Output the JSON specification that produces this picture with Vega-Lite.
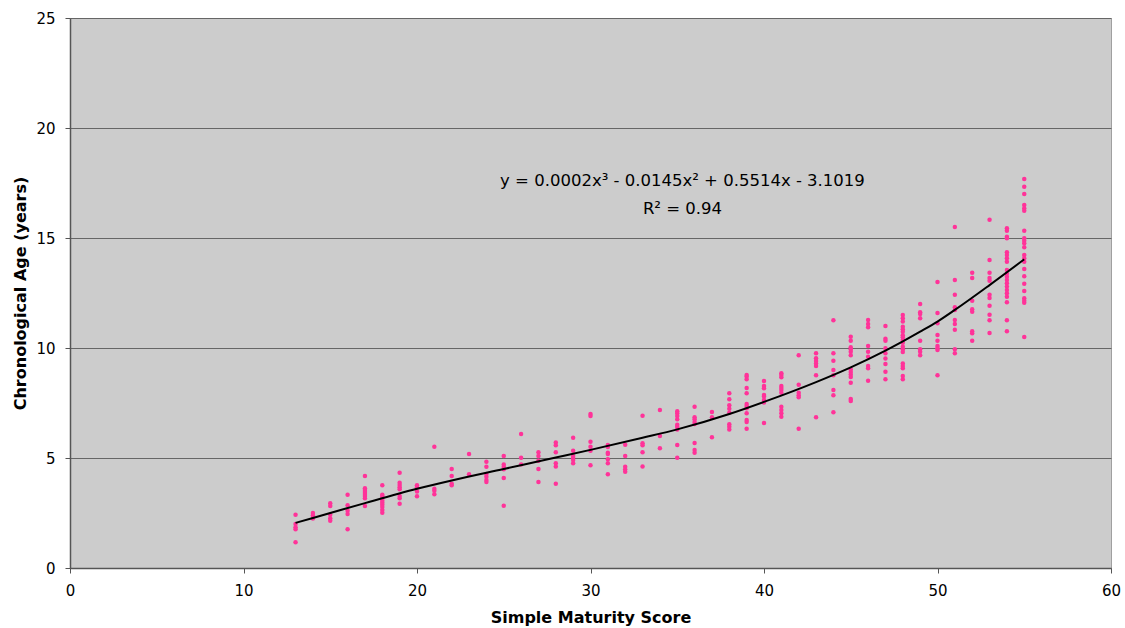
{
  "$schema": "https://vega.github.io/schema/vega-lite/v6.json",
  "width": 1041,
  "height": 550,
  "autosize": {"type": "none"},
  "padding": {"left": 70, "top": 18, "right": 14, "bottom": 60},
  "background": "white",
  "config": {
    "view": {"fill": "#CCCCCC", "stroke": "#A0A0A0", "strokeWidth": 1},
    "font": "DejaVu Sans",
    "axis": {
      "labelFont": "DejaVu Sans",
      "labelFontSize": 15,
      "labelColor": "#000000",
      "titleFont": "DejaVu Sans",
      "titleFontSize": 16,
      "titleFontWeight": "bold",
      "titleColor": "#000000",
      "domainColor": "#555555",
      "domainWidth": 1.5,
      "tickColor": "#555555",
      "tickSize": 5
    }
  },
  "datasets": {
    "pts": [
      {"score": 13, "age": 2.42}, {"score": 13, "age": 2.0}, {"score": 13, "age": 1.85}, {"score": 13, "age": 1.76}, {"score": 13, "age": 1.17},
      {"score": 14, "age": 2.5}, {"score": 14, "age": 2.4}, {"score": 14, "age": 2.25},
      {"score": 15, "age": 2.94}, {"score": 15, "age": 2.82}, {"score": 15, "age": 2.42}, {"score": 15, "age": 2.26}, {"score": 15, "age": 2.15},
      {"score": 16, "age": 3.33}, {"score": 16, "age": 2.85}, {"score": 16, "age": 2.6}, {"score": 16, "age": 2.45}, {"score": 16, "age": 1.76},
      {"score": 17, "age": 4.18}, {"score": 17, "age": 3.62}, {"score": 17, "age": 3.55}, {"score": 17, "age": 3.45}, {"score": 17, "age": 3.36}, {"score": 17, "age": 3.27}, {"score": 17, "age": 3.17}, {"score": 17, "age": 2.82},
      {"score": 18, "age": 3.76}, {"score": 18, "age": 3.33}, {"score": 18, "age": 3.27}, {"score": 18, "age": 3.17}, {"score": 18, "age": 3.06}, {"score": 18, "age": 2.97}, {"score": 18, "age": 2.88}, {"score": 18, "age": 2.77}, {"score": 18, "age": 2.64}, {"score": 18, "age": 2.51},
      {"score": 19, "age": 4.33}, {"score": 19, "age": 3.88}, {"score": 19, "age": 3.77}, {"score": 19, "age": 3.67}, {"score": 19, "age": 3.58}, {"score": 19, "age": 3.27}, {"score": 19, "age": 3.17}, {"score": 19, "age": 2.92},
      {"score": 20, "age": 3.76}, {"score": 20, "age": 3.67}, {"score": 20, "age": 3.48}, {"score": 20, "age": 3.26},
      {"score": 21, "age": 5.51}, {"score": 21, "age": 3.6}, {"score": 21, "age": 3.51}, {"score": 21, "age": 3.35},
      {"score": 22, "age": 4.5}, {"score": 22, "age": 4.18}, {"score": 22, "age": 3.83}, {"score": 22, "age": 3.76},
      {"score": 23, "age": 5.18}, {"score": 23, "age": 4.26},
      {"score": 24, "age": 4.83}, {"score": 24, "age": 4.6}, {"score": 24, "age": 4.27}, {"score": 24, "age": 4.15}, {"score": 24, "age": 4.0}, {"score": 24, "age": 3.91},
      {"score": 25, "age": 5.09}, {"score": 25, "age": 4.7}, {"score": 25, "age": 4.6}, {"score": 25, "age": 4.49}, {"score": 25, "age": 4.09}, {"score": 25, "age": 2.83},
      {"score": 26, "age": 6.09}, {"score": 26, "age": 5.01}, {"score": 26, "age": 4.71},
      {"score": 27, "age": 5.26}, {"score": 27, "age": 5.09}, {"score": 27, "age": 4.88}, {"score": 27, "age": 4.5}, {"score": 27, "age": 3.91},
      {"score": 28, "age": 5.7}, {"score": 28, "age": 5.58}, {"score": 28, "age": 5.26}, {"score": 28, "age": 4.76}, {"score": 28, "age": 4.61}, {"score": 28, "age": 3.83},
      {"score": 29, "age": 5.92}, {"score": 29, "age": 5.33}, {"score": 29, "age": 5.09}, {"score": 29, "age": 5.0}, {"score": 29, "age": 4.91}, {"score": 29, "age": 4.76},
      {"score": 30, "age": 7.0}, {"score": 30, "age": 6.91}, {"score": 30, "age": 5.74}, {"score": 30, "age": 5.51}, {"score": 30, "age": 5.33}, {"score": 30, "age": 4.67},
      {"score": 31, "age": 5.59}, {"score": 31, "age": 5.5}, {"score": 31, "age": 5.24}, {"score": 31, "age": 5.18}, {"score": 31, "age": 4.94}, {"score": 31, "age": 4.76}, {"score": 31, "age": 4.26},
      {"score": 32, "age": 5.6}, {"score": 32, "age": 5.09}, {"score": 32, "age": 4.6}, {"score": 32, "age": 4.49}, {"score": 32, "age": 4.38},
      {"score": 33, "age": 6.92}, {"score": 33, "age": 5.67}, {"score": 33, "age": 5.58}, {"score": 33, "age": 5.26}, {"score": 33, "age": 4.61},
      {"score": 34, "age": 7.18}, {"score": 34, "age": 6.0}, {"score": 34, "age": 5.44},
      {"score": 35, "age": 7.12}, {"score": 35, "age": 7.03}, {"score": 35, "age": 6.91}, {"score": 35, "age": 6.76}, {"score": 35, "age": 6.51}, {"score": 35, "age": 6.42}, {"score": 35, "age": 6.3}, {"score": 35, "age": 5.59}, {"score": 35, "age": 5.01},
      {"score": 36, "age": 7.33}, {"score": 36, "age": 6.85}, {"score": 36, "age": 6.76}, {"score": 36, "age": 6.64}, {"score": 36, "age": 6.55}, {"score": 36, "age": 5.68}, {"score": 36, "age": 5.36}, {"score": 36, "age": 5.24},
      {"score": 37, "age": 7.09}, {"score": 37, "age": 6.85}, {"score": 37, "age": 5.94},
      {"score": 38, "age": 7.94}, {"score": 38, "age": 7.67}, {"score": 38, "age": 7.4}, {"score": 38, "age": 7.24}, {"score": 38, "age": 7.06}, {"score": 38, "age": 6.53}, {"score": 38, "age": 6.42}, {"score": 38, "age": 6.3},
      {"score": 39, "age": 8.77}, {"score": 39, "age": 8.7}, {"score": 39, "age": 8.58}, {"score": 39, "age": 8.18}, {"score": 39, "age": 7.94}, {"score": 39, "age": 7.45}, {"score": 39, "age": 7.36}, {"score": 39, "age": 7.26}, {"score": 39, "age": 7.03}, {"score": 39, "age": 6.73}, {"score": 39, "age": 6.64}, {"score": 39, "age": 6.33},
      {"score": 40, "age": 8.5}, {"score": 40, "age": 8.27}, {"score": 40, "age": 8.17}, {"score": 40, "age": 7.86}, {"score": 40, "age": 7.79}, {"score": 40, "age": 7.64}, {"score": 40, "age": 7.52}, {"score": 40, "age": 6.59},
      {"score": 41, "age": 8.85}, {"score": 41, "age": 8.77}, {"score": 41, "age": 8.67}, {"score": 41, "age": 8.27}, {"score": 41, "age": 8.18}, {"score": 41, "age": 8.09}, {"score": 41, "age": 7.97}, {"score": 41, "age": 7.33}, {"score": 41, "age": 7.18}, {"score": 41, "age": 7.03}, {"score": 41, "age": 6.88},
      {"score": 42, "age": 9.67}, {"score": 42, "age": 8.33}, {"score": 42, "age": 7.97}, {"score": 42, "age": 7.85}, {"score": 42, "age": 7.76}, {"score": 42, "age": 6.33},
      {"score": 43, "age": 9.76}, {"score": 43, "age": 9.53}, {"score": 43, "age": 9.41}, {"score": 43, "age": 9.3}, {"score": 43, "age": 9.18}, {"score": 43, "age": 8.76}, {"score": 43, "age": 6.85},
      {"score": 44, "age": 11.26}, {"score": 44, "age": 9.76}, {"score": 44, "age": 9.42}, {"score": 44, "age": 9.0}, {"score": 44, "age": 8.76}, {"score": 44, "age": 8.09}, {"score": 44, "age": 7.85}, {"score": 44, "age": 7.08},
      {"score": 45, "age": 10.51}, {"score": 45, "age": 10.33}, {"score": 45, "age": 10.03}, {"score": 45, "age": 9.94}, {"score": 45, "age": 9.83}, {"score": 45, "age": 9.67}, {"score": 45, "age": 9.03}, {"score": 45, "age": 8.91}, {"score": 45, "age": 8.79}, {"score": 45, "age": 8.68}, {"score": 45, "age": 8.42}, {"score": 45, "age": 7.68}, {"score": 45, "age": 7.59},
      {"score": 46, "age": 11.27}, {"score": 46, "age": 11.09}, {"score": 46, "age": 10.94}, {"score": 46, "age": 10.09}, {"score": 46, "age": 9.83}, {"score": 46, "age": 9.6}, {"score": 46, "age": 9.18}, {"score": 46, "age": 9.08}, {"score": 46, "age": 8.51},
      {"score": 47, "age": 11.0}, {"score": 47, "age": 10.42}, {"score": 47, "age": 10.33}, {"score": 47, "age": 9.99}, {"score": 47, "age": 9.76}, {"score": 47, "age": 9.52}, {"score": 47, "age": 9.27}, {"score": 47, "age": 8.92}, {"score": 47, "age": 8.58},
      {"score": 48, "age": 11.5}, {"score": 48, "age": 11.35}, {"score": 48, "age": 11.2}, {"score": 48, "age": 10.97}, {"score": 48, "age": 10.85}, {"score": 48, "age": 10.74}, {"score": 48, "age": 10.58}, {"score": 48, "age": 10.49}, {"score": 48, "age": 10.36}, {"score": 48, "age": 10.24}, {"score": 48, "age": 10.06}, {"score": 48, "age": 9.94}, {"score": 48, "age": 9.82}, {"score": 48, "age": 9.3}, {"score": 48, "age": 9.18}, {"score": 48, "age": 9.08}, {"score": 48, "age": 8.73}, {"score": 48, "age": 8.58},
      {"score": 49, "age": 12.0}, {"score": 49, "age": 11.62}, {"score": 49, "age": 11.55}, {"score": 49, "age": 11.35}, {"score": 49, "age": 10.33}, {"score": 49, "age": 9.94}, {"score": 49, "age": 9.83}, {"score": 49, "age": 9.67},
      {"score": 50, "age": 13.0}, {"score": 50, "age": 11.59}, {"score": 50, "age": 11.12}, {"score": 50, "age": 10.59}, {"score": 50, "age": 10.33}, {"score": 50, "age": 10.09}, {"score": 50, "age": 9.99}, {"score": 50, "age": 9.91}, {"score": 50, "age": 8.76},
      {"score": 51, "age": 15.5}, {"score": 51, "age": 13.09}, {"score": 51, "age": 12.42}, {"score": 51, "age": 11.85}, {"score": 51, "age": 11.73}, {"score": 51, "age": 11.27}, {"score": 51, "age": 11.09}, {"score": 51, "age": 10.83}, {"score": 51, "age": 9.94}, {"score": 51, "age": 9.76},
      {"score": 52, "age": 13.42}, {"score": 52, "age": 13.18}, {"score": 52, "age": 12.15}, {"score": 52, "age": 11.76}, {"score": 52, "age": 11.65}, {"score": 52, "age": 10.76}, {"score": 52, "age": 10.67}, {"score": 52, "age": 10.33},
      {"score": 53, "age": 15.83}, {"score": 53, "age": 14.0}, {"score": 53, "age": 13.42}, {"score": 53, "age": 13.18}, {"score": 53, "age": 13.06}, {"score": 53, "age": 12.42}, {"score": 53, "age": 12.27}, {"score": 53, "age": 11.92}, {"score": 53, "age": 11.51}, {"score": 53, "age": 11.26}, {"score": 53, "age": 10.68},
      {"score": 54, "age": 15.44}, {"score": 54, "age": 15.33}, {"score": 54, "age": 15.06}, {"score": 54, "age": 14.99}, {"score": 54, "age": 14.35}, {"score": 54, "age": 14.23}, {"score": 54, "age": 14.08}, {"score": 54, "age": 13.92}, {"score": 54, "age": 13.55}, {"score": 54, "age": 13.39}, {"score": 54, "age": 13.24}, {"score": 54, "age": 13.09}, {"score": 54, "age": 12.94}, {"score": 54, "age": 12.79}, {"score": 54, "age": 12.64}, {"score": 54, "age": 12.49}, {"score": 54, "age": 12.33}, {"score": 54, "age": 12.08}, {"score": 54, "age": 11.26}, {"score": 54, "age": 10.76},
      {"score": 55, "age": 17.68}, {"score": 55, "age": 17.33}, {"score": 55, "age": 17.0}, {"score": 55, "age": 16.5}, {"score": 55, "age": 16.35}, {"score": 55, "age": 16.24}, {"score": 55, "age": 15.33}, {"score": 55, "age": 14.99}, {"score": 55, "age": 14.88}, {"score": 55, "age": 14.76}, {"score": 55, "age": 14.58}, {"score": 55, "age": 14.23}, {"score": 55, "age": 14.08}, {"score": 55, "age": 13.92}, {"score": 55, "age": 13.59}, {"score": 55, "age": 13.26}, {"score": 55, "age": 12.92}, {"score": 55, "age": 12.59}, {"score": 55, "age": 12.26}, {"score": 55, "age": 12.15}, {"score": 55, "age": 12.06}, {"score": 55, "age": 10.5}
    ],
    "trend": [
      {"score": 13, "age": 2.05}, {"score": 15, "age": 2.5}, {"score": 17, "age": 2.95}, {"score": 20, "age": 3.6},
      {"score": 22, "age": 3.98}, {"score": 25, "age": 4.5}, {"score": 28, "age": 5.02}, {"score": 30, "age": 5.37},
      {"score": 33, "age": 5.92}, {"score": 35, "age": 6.3}, {"score": 38, "age": 7.0}, {"score": 40, "age": 7.55},
      {"score": 43, "age": 8.45}, {"score": 45, "age": 9.12}, {"score": 47, "age": 9.88}, {"score": 48, "age": 10.3},
      {"score": 49, "age": 10.74}, {"score": 50, "age": 11.2}, {"score": 51, "age": 11.73}, {"score": 53, "age": 12.86},
      {"score": 55, "age": 14.03}
    ],
    "eq": [
      {"score": 35.3, "age": 17.6, "text": "y = 0.0002x³ - 0.0145x² + 0.5514x - 3.1019"},
      {"score": 35.3, "age": 16.32, "text": "R² = 0.94"}
    ]
  },
  "encoding": {
    "x": {
      "field": "score", "type": "quantitative",
      "scale": {"domain": [0, 60], "nice": false, "zero": false},
      "axis": {"title": "Simple Maturity Score", "values": [0, 10, 20, 30, 40, 50, 60], "grid": false, "labelPadding": 10, "titlePadding": 11, "labelFlush": false}
    },
    "y": {
      "field": "age", "type": "quantitative",
      "scale": {"domain": [0, 25], "nice": false},
      "axis": {"title": "Chronological Age (years)", "values": [0, 5, 10, 15, 20, 25], "grid": true, "gridColor": "#666666", "gridWidth": 1.2, "gridOpacity": 1, "labelPadding": 10, "titlePadding": 7, "labelFlush": false}
    }
  },
  "layer": [
    {
      "data": {"name": "pts"},
      "mark": {"type": "circle", "color": "#FF3399", "opacity": 1, "size": 20}
    },
    {
      "data": {"name": "trend"},
      "mark": {"type": "line", "color": "#000000", "strokeWidth": 2, "interpolate": "monotone"}
    },
    {
      "data": {"name": "eq"},
      "mark": {"type": "text", "font": "DejaVu Sans", "fontSize": 16.5, "color": "#000000", "align": "center", "baseline": "middle"},
      "encoding": {"text": {"field": "text", "type": "nominal"}}
    }
  ]
}
